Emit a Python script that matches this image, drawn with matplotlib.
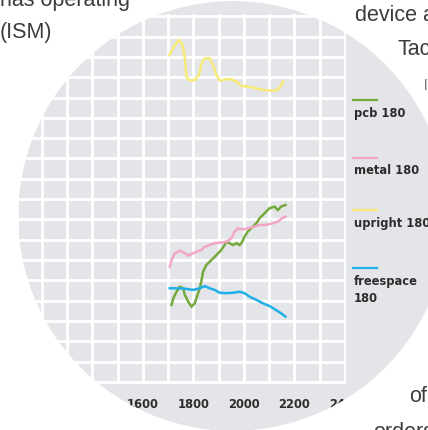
import matplotlib
matplotlib.use('Agg')
import matplotlib.pyplot as plt
import numpy as np
from matplotlib.patches import Circle, PathPatch
from matplotlib.path import Path
from matplotlib.lines import Line2D

# values (y in grid units)
pcb_x = [1713, 1720, 1733, 1746, 1759, 1766, 1779, 1792, 1805, 1818, 1825, 1832, 1838, 1851,
         1871, 1891, 1910, 1923, 1930, 1943, 1956, 1970, 1983, 1993, 2002, 2015, 2035, 2049,
         2062, 2081, 2101, 2121, 2134, 2147, 2164]
pcb_y = [3.79, 4.12, 4.44, 4.69, 4.61, 4.28, 3.95, 3.71, 3.87, 4.37, 4.61, 5.02, 5.43, 5.76,
         6.00, 6.25, 6.50, 6.74, 6.90, 6.83, 6.74, 6.83, 6.74, 6.90, 7.15, 7.40, 7.64, 7.81,
         8.06, 8.30, 8.55, 8.63, 8.46, 8.63, 8.71]

metal_x = [1706, 1713, 1726, 1746, 1766, 1779, 1792, 1812, 1832, 1845, 1864, 1884, 1910, 1930,
           1950, 1963, 1976, 1996, 2015, 2042, 2062, 2088, 2114, 2134, 2151, 2164]
metal_y = [5.67, 6.00, 6.33, 6.46, 6.33, 6.22, 6.30, 6.41, 6.50, 6.66, 6.74, 6.83, 6.86, 6.90,
           7.07, 7.40, 7.56, 7.51, 7.56, 7.64, 7.73, 7.73, 7.81, 7.89, 8.06, 8.13]

upright_x = [1704, 1726, 1743, 1757, 1766, 1772, 1785, 1805, 1822, 1832, 1845, 1864, 1877, 1891,
             1904, 1930, 1950, 1970, 1989, 2022, 2049, 2075, 2101, 2127, 2140, 2147, 2156]
upright_y = [16.09, 16.58, 16.83, 16.58, 15.93, 15.02, 14.83, 14.86, 15.11, 15.68, 15.93, 15.93,
             15.60, 15.11, 14.83, 14.90, 14.90, 14.78, 14.57, 14.53, 14.45, 14.37, 14.34, 14.34,
             14.45, 14.62, 14.78]

free_x = [1706, 1746, 1772, 1798, 1825, 1845, 1864, 1884, 1904, 1930, 1956, 1983, 2002, 2022,
          2049, 2075, 2101, 2127, 2147, 2164]
free_y = [4.61, 4.61, 4.58, 4.53, 4.61, 4.72, 4.61, 4.53, 4.39, 4.37, 4.39, 4.44, 4.37, 4.20,
          4.04, 3.87, 3.74, 3.54, 3.38, 3.22]

series = [
    ("pcb 180", pcb_x, pcb_y, "#76a93c"),
    ("metal 180", metal_x, metal_y, "#f3a5c6"),
    ("upright 180", upright_x, upright_y, "#f8ea78"),
    ("freespace\n180", free_x, free_y, "#1fb0ea"),
]
xticks = [1600, 1800, 2000, 2200, 2400]

W, H = 428, 430
fig = plt.figure(figsize=(W / 100, H / 100), dpi=100)
fig.patch.set_facecolor("white")


def px(x, y):
    # pixel position from top-left -> inches for dpi_scale_trans
    return x / 100, (H - y) / 100


lens_c = px(233, 216)
lens_r = 2.15
lens = Circle(lens_c, lens_r, transform=fig.dpi_scale_trans,
              facecolor="#e3e5e8", edgecolor="none", zorder=-1)
fig.add_artist(lens)

# white page over everything outside the lens (agg can't clip text to a path)
t = np.linspace(0, -2 * np.pi, 361)
ring = np.column_stack([lens_c[0] + lens_r * np.cos(t), lens_c[1] + lens_r * np.sin(t)])
box = np.array([[-1, -1], [6, -1], [6, 6], [-1, 6], [-1, -1]])
verts = np.vstack([box, ring])
codes = ([Path.MOVETO] + [Path.LINETO] * 3 + [Path.CLOSEPOLY]
         + [Path.MOVETO] + [Path.LINETO] * (len(ring) - 2) + [Path.CLOSEPOLY])
fig.add_artist(PathPatch(Path(verts, codes), facecolor="white", edgecolor="none",
                         transform=fig.dpi_scale_trans, zorder=1))

# page text around the lens
page = dict(family="Liberation Sans", fontsize=15.5, color="#3c3c3c",
            transform=fig.dpi_scale_trans, zorder=4)
fig.text(*px(0, 6), "has operating", va="baseline", **page)
fig.text(*px(0, 38), "(ISM)", va="baseline", **page)
fig.text(*px(355, 21), "device a", va="baseline", **page)
fig.text(*px(397, 55), "Tac", va="baseline", **page)
fig.text(*px(424, 90), "l", va="baseline", fontsize=11, color="#777", zorder=4,
         family="Liberation Sans", transform=fig.dpi_scale_trans)
fig.text(*px(409, 402), "of", va="baseline", **page)
fig.text(*px(373, 438), "orders", va="baseline", **page)

ax = fig.add_axes([-8.5 / W, (H - 384) / H, 354.5 / W, (384 - 14.2) / H])
ax.set_facecolor("none")
for s in ax.spines.values():
    s.set_visible(False)

ax.set_xlim(1000, 2404)
ax.set_ylim(-0.1, 18.1)
ax.set_xticks(xticks)
ax.set_xticks(range(1000, 2401, 100), minor=True)
ax.set_yticks(range(0, 19))
ax.set_yticklabels([])
ax.tick_params(axis="both", which="both", length=0)
ax.tick_params(axis="x", pad=10, labelsize=8.3, labelcolor="#2d2d2d")
for lab in ax.get_xticklabels():
    lab.set_fontweight("bold")
ax.grid(True, which="both", color="white", lw=2)
ax.set_axisbelow(True)

for name, xs, ys, col in series:
    ax.plot(xs, ys, color=col, lw=1.8, solid_joinstyle="miter")

# legend at the right: short line above each label
leg_pos = [(100, 113), (158, 170), (210, 223), (268, 281)]
for (name, xs, ys, col), (ly, ty) in zip(series, leg_pos):
    fig.add_artist(Line2D([3.53, 3.77], [(H - ly) / 100] * 2, color=col, lw=1.6,
                          transform=fig.dpi_scale_trans, zorder=3))
    fig.text(*px(354, ty - 6), name, va="top", ha="left", fontsize=8.3,
             fontweight="bold", color="#2d2d2d", linespacing=1.45,
             transform=fig.dpi_scale_trans)

fig.savefig("out.png", dpi=100)
